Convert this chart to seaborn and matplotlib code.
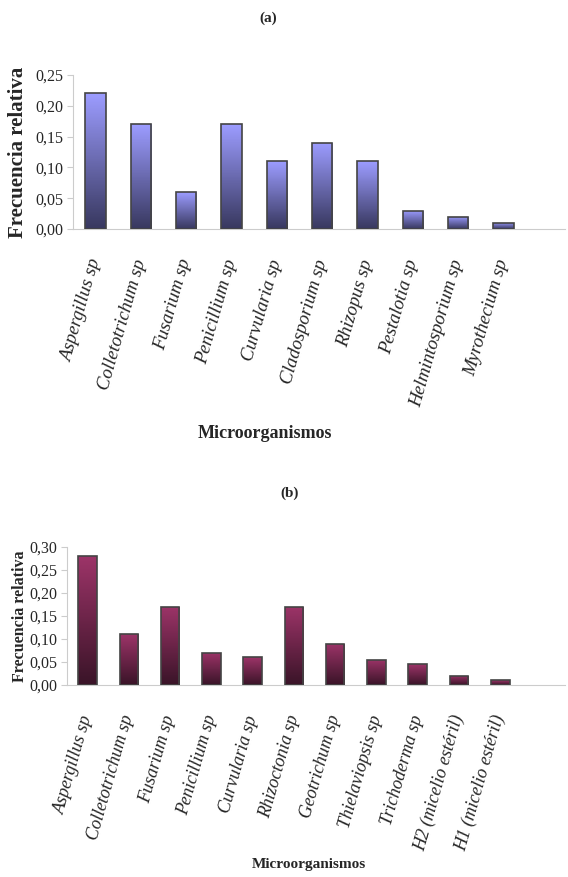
import matplotlib
matplotlib.use("Agg")
import matplotlib.pyplot as plt
import matplotlib.colors as mcolors
import numpy as np
import pandas as pd
import seaborn as sns

# Data (a)
micro_a = ['Aspergillus sp', 'Colletotrichum sp', 'Fusarium sp', 'Penicillium sp',
           'Curvularia sp', 'Cladosporium sp', 'Rhizopus sp', 'Pestalotia sp',
           'Helmintosporium sp', 'Myrothecium sp']
freq_a = [0.22, 0.17, 0.06, 0.17, 0.11, 0.14, 0.11, 0.03, 0.02, 0.01]

# Data (b)
micro_b = ['Aspergillus sp', 'Colletotrichum sp', 'Fusarium sp', 'Penicillium sp',
           'Curvularia sp', 'Rhizoctonia sp', 'Geotrichum sp', 'Thielaviopsis sp',
           'Trichoderma sp', 'H2 (micelio estéril)', 'H1 (micelio estéril)']
freq_b = [0.28, 0.11, 0.17, 0.07, 0.06, 0.17, 0.09, 0.055, 0.045, 0.02, 0.01]

sns.set_style("white")
plt.rcParams['font.family'] = ['Liberation Serif', 'DejaVu Serif']

fig = plt.figure(figsize=(5.68, 8.77), dpi=100)
ax_a = fig.add_axes([73 / 568, 1 - 229 / 877, 492 / 568, 154 / 877])
ax_b = fig.add_axes([67 / 568, 1 - 685 / 877, 498 / 568, 138 / 877])


def gradient_bars(ax, dark, light):
    # excel style vertical gradient inside each bar
    cmap = mcolors.LinearSegmentedColormap.from_list('g', [dark, light])
    grad = np.linspace(0, 1, 64).reshape(-1, 1)
    for p in ax.patches:
        x0, y0 = p.get_x(), p.get_y()
        w, h = p.get_width(), p.get_height()
        im = ax.imshow(grad, cmap=cmap, aspect='auto', origin='lower',
                       extent=[x0, x0 + w, y0, y0 + h], zorder=2)
        im.set_clip_path(p)
        p.set_facecolor('none')
        p.set_zorder(3)


def style_axis(ax, labels, values, ymax, xmax, dark, light, fs):
    df = pd.DataFrame({'micro': labels, 'freq': values})
    sns.barplot(data=df, x='micro', y='freq', ax=ax, width=0.45,
                color=light, edgecolor='#444444', linewidth=1.2)
    gradient_bars(ax, dark, light)
    n = len(labels)
    ax.set_xlim(-0.5, xmax)
    ax.set_ylim(0, ymax)
    ticks = np.arange(0, ymax + 1e-9, 0.05)
    ax.set_yticks(ticks)
    ax.set_yticklabels([f"{t:.2f}".replace('.', ',') for t in ticks], fontsize=11.5)
    ax.set_xticks(np.arange(n) - 0.5, minor=True)
    ax.set_xticks(np.arange(n))
    ax.set_xticklabels(labels, rotation=74, ha='right', va='center',
                       rotation_mode='anchor', fontsize=fs, style='italic')
    ax.tick_params(axis='x', which='major', length=0, pad=22)
    ax.tick_params(axis='x', which='minor', length=4, color='#cccccc', width=0.8)
    ax.tick_params(axis='y', length=4, color='#cccccc', width=0.8, pad=3,
                   left=True)
    for s in ['top', 'right']:
        ax.spines[s].set_visible(False)
    for s in ['bottom', 'left']:
        ax.spines[s].set_color('#cccccc')
        ax.spines[s].set_linewidth(0.8)


style_axis(ax_a, micro_a, freq_a, 0.25, 10.36, '#38385f', '#9c9cff', 13.5)
style_axis(ax_b, micro_b, freq_b, 0.30, 11.57, '#3a1428', '#9c3468', 13)

ax_a.set_ylabel('Frecuencia relativa', fontsize=15, fontweight='bold', va='center')
ax_b.set_ylabel('Frecuencia relativa', fontsize=11.5, fontweight='bold', va='center')
ax_a.yaxis.set_label_coords(-0.112, 0.5)
ax_b.yaxis.set_label_coords(-0.094, 0.5)

ax_a.set_xlabel('Microorganismos', fontsize=13, fontweight='bold', va='center')
ax_b.set_xlabel('Microorganismos', fontsize=11, fontweight='bold', va='center')
ax_a.xaxis.set_label_coords(0.39, -1.325)
ax_b.xaxis.set_label_coords(0.486, -1.30)

fig.text(268 / 568, 1 - 18 / 877, '(a)', ha='center', va='center',
         fontsize=11, fontweight='bold')
fig.text(290 / 568, 1 - 493 / 877, '(b)', ha='center', va='center',
         fontsize=11, fontweight='bold')

fig.savefig('out.png', dpi=100)
